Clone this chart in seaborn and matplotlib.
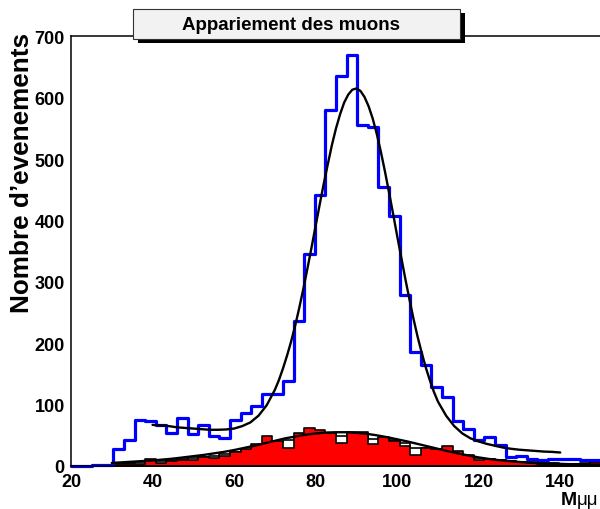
import numpy as np
import pandas as pd
import matplotlib
matplotlib.use("Agg")
import matplotlib.pyplot as plt
import seaborn as sns
from matplotlib.patches import Rectangle

# ---- data -------------------------------------------------------------
# 50 bins between 20 and 150 GeV
m_min, m_max, n_bins = 20.0, 150.0, 50
bin_width = (m_max - m_min) / n_bins

# all dimuon pairs (bins 0..49)
all_counts = [0, 0, 1, 2,
              28, 42, 75, 74, 66, 54, 78, 52, 67, 49, 46, 75, 87, 98,
              117, 117, 138,
              237, 346, 441, 580, 636, 669, 556, 552, 455, 407,
              278, 186, 164, 128, 112, 74, 61, 42, 47, 35,
              14, 17, 12, 9, 11, 11, 11, 10, 10]

# wrongly paired muons (bins 4..49)
wrong_first_bin = 4
wrong_counts = [3, 4, 4, 11, 5, 8, 10, 9, 14, 13, 16, 23,
                28, 36, 49, 41, 30, 53, 62, 58, 53, 38, 56, 56,
                36, 47, 41, 33, 18, 29, 28, 32, 24, 18, 9, 12,
                9, 8, 6, 5, 3, 3, 4, 3, 5, 6]

# expected shape of the wrong pairings (outline only, bins 4..49)
wrong_ref = [4, 5, 6, 7, 8, 9, 11, 13, 15, 17, 20, 22,
             26, 30, 35, 39, 42, 46, 50, 52, 53, 49, 53, 52,
             44, 46, 42, 38, 30, 30, 27, 24, 20, 16, 13, 11,
             9, 8, 7, 6, 5, 5, 4, 4, 3, 3]

# fit over all pairs (peak + background)
peak_fit_x = [40, 42, 44, 46, 48, 50, 52, 54, 56, 58, 60, 62, 64, 66, 68, 70,
              71, 72, 73, 74, 75, 76, 77, 78, 79, 80, 81, 82, 83, 84, 85, 86,
              87, 88, 89, 90, 91, 92, 93, 94, 95, 96, 97, 98, 99, 100, 101,
              102, 103, 104, 105, 106, 107, 108, 109, 110,
              112, 114, 116, 118, 120, 122, 124, 126, 128, 130, 132, 134,
              136, 138, 140]
peak_fit_y = [67, 66, 65, 63, 62, 61, 60, 59, 59, 59.5, 61, 65, 71, 82, 99, 124,
              140, 159, 180, 203, 229, 258, 289, 322, 356, 391, 426, 460, 492,
              523, 550, 573, 592, 605, 613, 615, 611, 601, 586, 566, 541, 512,
              480, 446, 411, 375, 340, 305, 272, 240, 211, 185, 161, 140, 121,
              105, 82, 65, 53, 45, 40, 36, 33, 30, 28, 26.5, 25.5, 24.5, 23.5,
              23, 22]

# fit over the wrong pairings
wrong_fit_x = [30, 32.5, 35, 37.5, 40, 42.5, 45, 47.5, 50, 52.5, 55, 57.5,
               60, 62.5, 65, 67.5, 70, 72.5, 75, 77.5, 80, 82.5, 85, 87.5,
               90, 92.5, 95, 97.5, 100, 102.5, 105, 107.5, 110, 112.5, 115,
               117.5, 120, 122.5, 125, 127.5, 130, 132.5, 135, 137.5, 140,
               142.5, 145, 147.5, 150]
wrong_fit_y = [5, 6, 7, 8, 9, 10.5, 12, 14, 16, 18, 20.5, 23,
               26, 29.5, 33, 37, 41, 45, 48, 51, 53, 54.5, 55, 55,
               54, 52.5, 50, 47, 43.5, 40, 36, 32, 28, 24, 20.5,
               17, 14, 11.5, 9.5, 8, 6.5, 5.5, 4.5, 4, 3.5,
               3, 3, 2.5, 2.5]

x_ticks = [20, 40, 60, 80, 100, 120, 140]
y_ticks = [0, 100, 200, 300, 400, 500, 600, 700]


def hist_frame(first_bin, counts):
    edges = m_min + bin_width * np.arange(first_bin, first_bin + len(counts) + 1)
    centers = edges[:-1] + bin_width / 2
    return pd.DataFrame({"m": centers, "n": counts}), [float(e) for e in edges]


# ---- style ------------------------------------------------------------
sns.set_style("white")
plt.rcParams["font.family"] = ["Liberation Sans", "DejaVu Sans"]
plt.rcParams["font.weight"] = "bold"
plt.rcParams["text.color"] = "black"
plt.rcParams["xtick.color"] = "black"
plt.rcParams["ytick.color"] = "black"

fig = plt.figure(figsize=(6.0, 5.1), dpi=100)
ax = fig.add_axes([71 / 600, 43 / 510, 530 / 600, 429.7 / 510])

# ---- histograms -------------------------------------------------------
ref_df, ref_edges = hist_frame(wrong_first_bin, wrong_ref)
sns.histplot(data=ref_df, x="m", weights="n", bins=ref_edges, element="step",
             fill=True, facecolor="white", edgecolor="black", linewidth=1.2,
             alpha=1, zorder=1.0, ax=ax)

wrong_df, wrong_edges = hist_frame(wrong_first_bin, wrong_counts)
sns.histplot(data=wrong_df, x="m", weights="n", bins=wrong_edges,
             element="step", fill=True, facecolor="#ff0000",
             edgecolor="black", linewidth=1.2, alpha=1, zorder=1.1, ax=ax)

all_df, all_edges = hist_frame(0, all_counts)
sns.histplot(data=all_df, x="m", weights="n", bins=all_edges, element="step",
             fill=False, color="#0000ff", linewidth=2.3, zorder=2, ax=ax)
ax.lines[-1].set_clip_on(False)

# ---- fitted curves ----------------------------------------------------
sns.lineplot(x=peak_fit_x, y=peak_fit_y, color="black", linewidth=1.7,
             sort=False, zorder=3, ax=ax)
sns.lineplot(x=wrong_fit_x, y=wrong_fit_y, color="black", linewidth=1.7,
             sort=False, zorder=3, ax=ax)

# ---- axes -------------------------------------------------------------
ax.set_xlim(m_min, m_max)
ax.set_ylim(0, 700)
ax.set_xticks(x_ticks)
ax.set_xticks(np.arange(20, 151, 5), minor=True)
ax.set_yticks(y_ticks)
ax.set_yticks(np.arange(0, 701, 20), minor=True)
ax.set_axisbelow(True)
ax.tick_params(axis="both", which="both", direction="in", width=1.1,
               colors="black", labelsize=13)
ax.tick_params(axis="both", which="major", length=8.6)
ax.tick_params(axis="y", which="minor", length=4.3)
ax.tick_params(axis="x", which="minor", length=3.8)
ax.tick_params(axis="y", pad=4.5)
ax.tick_params(axis="x", pad=5)
for lab in ax.get_xticklabels() + ax.get_yticklabels():
    lab.set_fontweight("bold")
ax.set_xlabel("")
ax.set_ylabel("")
for side in ["left", "top", "bottom"]:
    ax.spines[side].set_color("black")
    ax.spines[side].set_linewidth(1.1)
ax.spines["right"].set_visible(False)

# axis titles
fig.text(22 / 600, (510 - 33) / 510, "Nombre d\u2019evenements", rotation=90,
         ha="center", va="top", fontsize=18.8, fontweight="bold")
fig.text(577 / 600, 5 / 510, "M", ha="right", va="baseline", fontsize=14,
         fontweight="bold")
fig.text(577 / 600, 5 / 510, "\u03bc\u03bc", ha="left", va="baseline",
         fontsize=13.5, fontweight="normal")

# ---- title box with drop shadow --------------------------------------
fig.add_artist(Rectangle((138 / 600, (510 - 44) / 510), 327 / 600, 30 / 510,
                         transform=fig.transFigure, facecolor="black",
                         edgecolor="none", zorder=5))
fig.add_artist(Rectangle((133 / 600, (510 - 40) / 510), 327 / 600, 30 / 510,
                         transform=fig.transFigure, facecolor="#f2f2f2",
                         edgecolor="#333333", linewidth=0.8, zorder=6))
fig.text(291 / 600, (510 - 25) / 510, "Appariement des muons", ha="center",
         va="center", fontsize=13.5, fontweight="bold", zorder=7)

fig.savefig("out.png", dpi=100)
